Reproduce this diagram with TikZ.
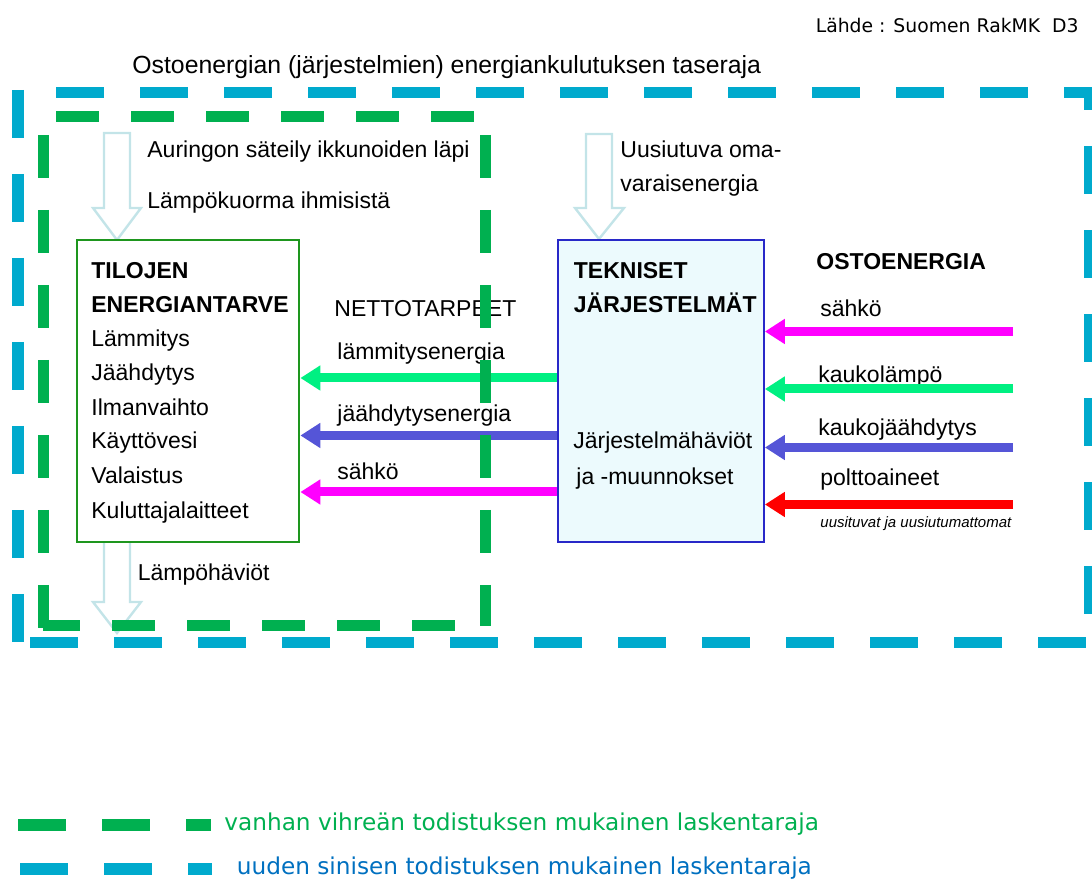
\documentclass[tikz,border=0pt]{standalone}
\usepackage{fontspec}
\setmainfont{Liberation Sans}
\newfontfamily\tahoma{DejaVu Sans}
\usetikzlibrary{arrows.meta}
\definecolor{rajavihrea}{RGB}{0,176,80}
\definecolor{rajasini}{RGB}{0,170,205}
\definecolor{laatikkovihrea}{RGB}{30,150,30}
\definecolor{laatikkosini}{RGB}{40,40,200}
\definecolor{laatikkotausta}{RGB}{236,250,253}
\definecolor{onttoreuna}{RGB}{195,228,232}
\definecolor{lampo}{RGB}{0,240,130}
\definecolor{kylma}{RGB}{85,85,215}
\definecolor{sahko}{RGB}{255,0,255}
\definecolor{poltto}{RGB}{255,0,0}
\definecolor{selitesini}{RGB}{0,112,192}

\begin{document}
\begin{tikzpicture}[x=0.5pt,y=-0.5pt,
  txt/.style={anchor=base west,inner sep=0pt,font=\fontsize{11.5}{13}\selectfont},
  bold/.style={txt,font=\fontsize{11.5}{13}\selectfont\bfseries},
  virta/.style={line width=4.5pt,-{Triangle[length=10pt,width=12pt]}},
  ontto/.style={draw=onttoreuna,fill=white,line width=1.2pt},
  vihrearaja/.style={draw=rajavihrea,line width=5.5pt,dash pattern=on 21.5pt off 16pt},
  siniraja/.style={draw=rajasini,line width=5.8pt,dash pattern=on 24pt off 18pt}]
\useasboundingbox (0,0) rectangle (1092,881);

% otsikot
\node[anchor=base east,inner sep=0pt,font=\tahoma\fontsize{9.4}{11}\selectfont] (lahde) at (1079,33) {Lähde : Suomen RakMK\ \ D3};
\node[txt,font=\fontsize{12.4}{14}\selectfont] (otsikko) at (132,74) {Ostoenergian (järjestelmien) energiankulutuksen taseraja};

% ontot nuolet
\draw[ontto] (104,133) -- (130,133) -- (130,208) -- (141,208) -- (117,240) -- (93,208) -- (104,208) -- cycle;
\draw[ontto] (104,541) -- (130,541) -- (130,602) -- (141,602) -- (117,633) -- (93,602) -- (104,602) -- cycle;
\draw[ontto] (586,134) -- (612,134) -- (612,208) -- (624,208) -- (599,239) -- (575,208) -- (586,208) -- cycle;

% laatikot
\node[draw=laatikkovihrea,line width=1.2pt,fill=white,minimum width=111pt,minimum height=151pt,anchor=north west,inner sep=0pt] (tilat) at (76,239) {};
\node[draw=laatikkosini,line width=1.2pt,fill=laatikkotausta,minimum width=102.75pt,minimum height=151pt,anchor=north west,inner sep=0pt] (tekn) at (557,239) {};

% tekstit vasemmalla
\node[txt] (aurinko) at (147,158) {Auringon säteily ikkunoiden läpi};
\node[txt] (kuorma) at (147,208.5) {Lämpökuorma ihmisistä};
\node[bold] (tilat1) at (91,279) {TILOJEN};
\node[bold] (tilat2) at (91,313) {ENERGIANTARVE};
\node[txt] (t1) at (91,347) {Lämmitys};
\node[txt] (t2) at (91,381) {Jäähdytys};
\node[txt] (t3) at (91,415.5) {Ilmanvaihto};
\node[txt] (t4) at (91,449) {Käyttövesi};
\node[txt] (t5) at (91,484) {Valaistus};
\node[txt] (t6) at (91,518.5) {Kuluttajalaitteet};
\node[txt] (havio) at (137.5,581) {Lämpöhäviöt};

% nettotarpeet
\node[txt] (netto) at (334,316.5) {NETTOTARPEET};
\node[txt] (lamm) at (337,360) {lämmitysenergia};
\node[txt] (jaah) at (337,422) {jäähdytysenergia};
\node[txt] (sahko1) at (337,480) {sähkö};
\coordinate (r1) at (0,378);
\coordinate (r2) at (0,435.5);
\coordinate (r3) at (0,492);
\draw[virta,lampo] (tekn.west |- r1) -- (tilat.east |- r1);
\draw[virta,kylma] (tekn.west |- r2) -- (tilat.east |- r2);
\draw[virta,sahko] (tekn.west |- r3) -- (tilat.east |- r3);

% tekniset jarjestelmat
\node[txt] (uusi1) at (620,158) {Uusiutuva oma-};
\node[txt] (uusi2) at (620,191.5) {varaisenergia};
\node[bold] (tekn1) at (573.5,279) {TEKNISET};
\node[bold] (tekn2) at (573.5,313) {JÄRJESTELMÄT};
\node[txt] (jarj1) at (573,449) {Järjestelmähäviöt};
\node[txt] (jarj2) at (576,485) {ja -muunnokset};

% ostoenergia
\node[bold] (osto) at (816,270) {OSTOENERGIA};
\node[txt] (sahko2) at (820,316.5) {sähkö};
\node[txt] (kaukol) at (818,383) {kaukolämpö};
\node[txt] (kaukoj) at (818,436) {kaukojäähdytys};
\node[txt] (polt) at (820,485.5) {polttoaineet};
\node[txt,font=\fontsize{7.5}{9}\selectfont\itshape] (uusit) at (820,527.5) {uusituvat ja uusiutumattomat};
\coordinate (o1) at (1013,331.5);
\coordinate (o2) at (1013,389);
\coordinate (o3) at (1013,447.5);
\coordinate (o4) at (1013,504.5);
\draw[virta,sahko] (o1) -- (tekn.east |- o1);
\draw[virta,lampo] (o2) -- (tekn.east |- o2);
\draw[virta,kylma] (o3) -- (tekn.east |- o3);
\draw[virta,poltto] (o4) -- (tekn.east |- o4);

% taserajat
\draw[vihrearaja] (56,116.5) -- (474,116.5);
\draw[vihrearaja] (43,135) -- (43,630);
\draw[vihrearaja] (485.5,135) -- (485.5,626);
\draw[vihrearaja,dash phase=3pt] (43,625.5) -- (460,625.5);
\draw[siniraja] (56,92.5) -- (1092,92.5);
\draw[siniraja] (18,90) -- (18,645);
\draw[siniraja] (30,642.5) -- (1092,642.5);
\draw[siniraja,dash phase=18pt] (1090,98) -- (1090,645);

% selitteet
\draw[vihrearaja,line width=6pt,dash pattern=on 24pt off 18pt] (18,824.5) -- (211,824.5);
\draw[siniraja,line width=6pt] (20,869) -- (212,869);
\node[anchor=base west,inner sep=0pt,font=\tahoma\fontsize{11.6}{13}\selectfont,text=rajavihrea] (selite1) at (224,830) {vanhan vihreän todistuksen mukainen laskentaraja};
\node[anchor=base west,inner sep=0pt,font=\tahoma\fontsize{11.6}{13}\selectfont,text=selitesini] (selite2) at (236.5,874) {uuden sinisen todistuksen mukainen laskentaraja};
\end{tikzpicture}
\end{document}
